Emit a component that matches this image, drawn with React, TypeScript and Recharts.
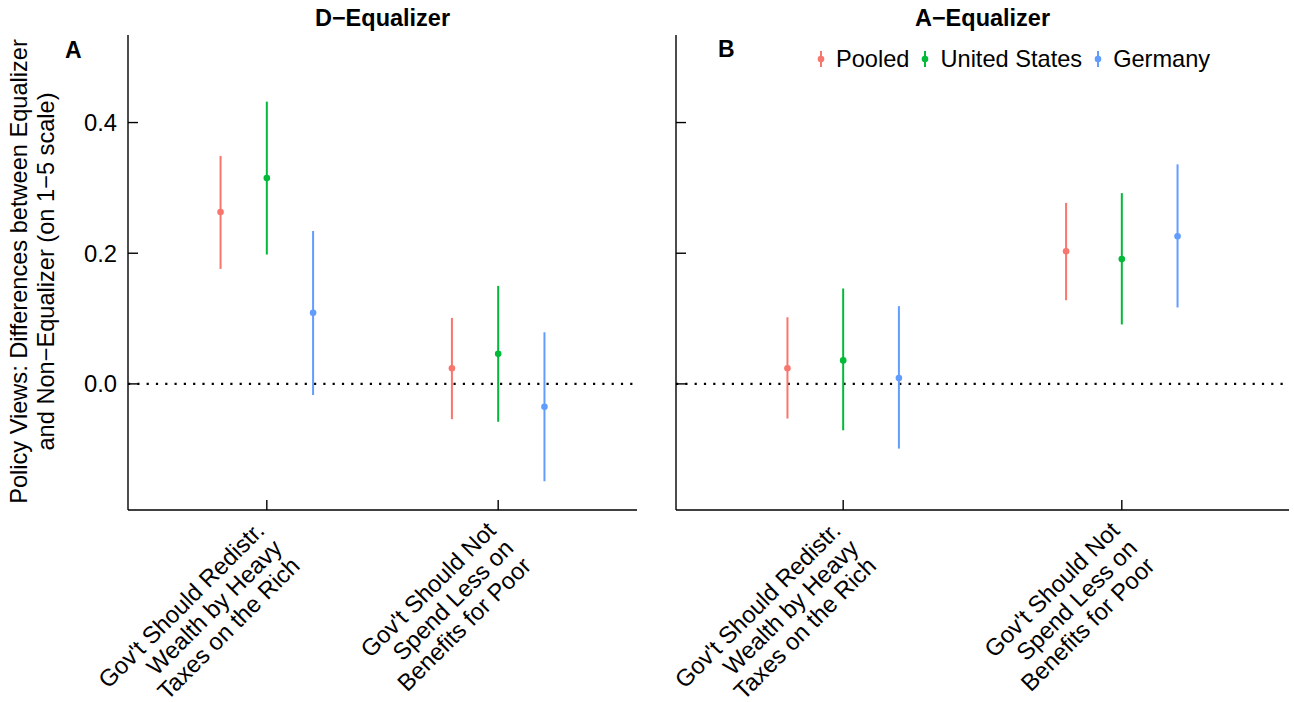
import React from 'react';
import { ScatterChart, Scatter, XAxis, YAxis, ErrorBar, ReferenceLine, Legend } from 'recharts';

const FONT = '"Liberation Sans", Arial, Helvetica, sans-serif';

const SERIES = ['Pooled', 'United States', 'Germany'];
const COLORS = ['#F8766D', '#00BA38', '#619CFF'];
const DODGE = [-0.2, 0, 0.2];

const CATEGORY_LABELS = [
  ["Gov't Should Redistr.", 'Wealth by Heavy', 'Taxes on the Rich'],
  ["Gov't Should Not", 'Spend Less on', 'Benefits for Poor'],
];
const Y_TICKS = [0, 0.2, 0.4];
const Y_DOMAIN = [-0.193, 0.534];

// panel A: D-Equalizer (estimate, lower, upper per category)
const dPooledEst = [0.263, 0.024];
const dPooledLo = [0.176, -0.054];
const dPooledHi = [0.349, 0.101];
const dUsEst = [0.315, 0.046];
const dUsLo = [0.198, -0.058];
const dUsHi = [0.432, 0.15];
const dGerEst = [0.109, -0.035];
const dGerLo = [-0.017, -0.149];
const dGerHi = [0.234, 0.079];

// panel B: A-Equalizer
const aPooledEst = [0.024, 0.203];
const aPooledLo = [-0.053, 0.128];
const aPooledHi = [0.102, 0.277];
const aUsEst = [0.036, 0.191];
const aUsLo = [-0.071, 0.091];
const aUsHi = [0.146, 0.292];
const aGerEst = [0.009, 0.226];
const aGerLo = [-0.099, 0.117];
const aGerHi = [0.119, 0.336];

const buildRows = (est: number[], lo: number[], hi: number[], s: number) =>
  est.map((v, i) => ({ x: i + 1 + DODGE[s], y: v, err: [v - lo[i], hi[i] - v] }));

const panelA = [
  buildRows(dPooledEst, dPooledLo, dPooledHi, 0),
  buildRows(dUsEst, dUsLo, dUsHi, 1),
  buildRows(dGerEst, dGerLo, dGerHi, 2),
];
const panelB = [
  buildRows(aPooledEst, aPooledLo, aPooledHi, 0),
  buildRows(aUsEst, aUsLo, aUsHi, 1),
  buildRows(aGerEst, aGerLo, aGerHi, 2),
];

const TICK_FS = 23.8;

const XTick = (props: any) => {
  const { x, y, payload } = props;
  const lines = CATEGORY_LABELS[Math.round(payload.value) - 1] || [];
  return (
    <g>
      <line x1={x} x2={x} y1={y} y2={y - 10} stroke="#000" strokeWidth={1.4} />
      <g transform={`translate(${x - 1},${y + 22}) rotate(-45)`}>
        {lines.map((l, i) => (
          <text key={i} x={0} y={i * 25} textAnchor="end" fontSize={TICK_FS} fontFamily={FONT} fill="#000">
            {l}
          </text>
        ))}
      </g>
    </g>
  );
};

const makeYTick = (showLabel: boolean) => (props: any) => {
  const { x, y, payload } = props;
  return (
    <g>
      <line x1={x} x2={x + 10} y1={y} y2={y} stroke="#000" strokeWidth={1.4} />
      {showLabel && (
        <text x={x - 11} y={y} dy={8.4} textAnchor="end" fontSize={TICK_FS} fontFamily={FONT} fill="#000">
          {payload.value.toFixed(1)}
        </text>
      )}
    </g>
  );
};

const YTitle = (props: any) => {
  const vb = props.viewBox || {};
  const cy = vb.y + vb.height / 2 - 1;
  return (
    <g transform={`translate(0,${cy}) rotate(-90)`}>
      <text x={0} y={27} textAnchor="middle" fontSize={23.6} fontFamily={FONT} fill="#000">
        Policy Views: Differences between Equalizer
      </text>
      <text x={0} y={54} textAnchor="middle" fontSize={23.6} fontFamily={FONT} fill="#000">
        and Non−Equalizer (on 1−5 scale)
      </text>
    </g>
  );
};

const LegendContent = () => (
  <div style={{ display: 'flex', alignItems: 'center', fontFamily: FONT, fontSize: 23.6, lineHeight: '24px', whiteSpace: 'nowrap' }}>
    {SERIES.map((name, i) => (
      <div key={name} style={{ display: 'flex', alignItems: 'center', marginRight: 9 }}>
        <svg width={14} height={24}>
          <line x1={7} x2={7} y1={4} y2={20} stroke={COLORS[i]} strokeWidth={2} />
          <circle cx={7} cy={12} r={3.3} fill={COLORS[i]} />
        </svg>
        <span style={{ marginLeft: 8, color: '#000' }}>{name}</span>
      </div>
    ))}
  </div>
);

interface PanelProps {
  series: { x: number; y: number; err: number[] }[][];
  width: number;
  yAxisWidth: number;
  rightMargin: number;
  showYLabels: boolean;
  showLegend: boolean;
}

const Panel: React.FC<PanelProps> = ({ series, width, yAxisWidth, rightMargin, showYLabels, showLegend }) => (
  <ScatterChart width={width} height={702} margin={{ top: 35, right: rightMargin, bottom: 0, left: 0 }}>
    <XAxis
      type="number"
      dataKey="x"
      domain={[0.4, 2.6]}
      ticks={[1, 2]}
      allowDataOverflow
      height={192}
      tickSize={0}
      tickMargin={0}
      tickLine={false}
      axisLine={{ stroke: '#000', strokeWidth: 1.4 }}
      tick={<XTick />}
    />
    <YAxis
      type="number"
      dataKey="y"
      domain={Y_DOMAIN}
      ticks={Y_TICKS}
      allowDataOverflow
      width={yAxisWidth}
      tickSize={0}
      tickMargin={0}
      tickLine={false}
      axisLine={{ stroke: '#000', strokeWidth: 1.4 }}
      tick={makeYTick(showYLabels)}
      label={showYLabels ? (p: any) => <YTitle {...p} /> : undefined}
    />
    <ReferenceLine y={0} stroke="#000" strokeWidth={2.2} strokeDasharray="2.2 7.1" />
    {series.map((rows, i) => (
      <Scatter
        key={SERIES[i]}
        name={SERIES[i]}
        data={rows}
        fill={COLORS[i]}
        isAnimationActive={false}
        shape={(p: any) => <circle cx={p.cx} cy={p.cy} r={3.3} fill={COLORS[i]} />}
      >
        <ErrorBar dataKey="err" direction="y" width={0} stroke={COLORS[i]} strokeWidth={2} isAnimationActive={false} />
      </Scatter>
    ))}
    {showLegend && (
      <Legend
        layout="horizontal"
        verticalAlign="middle"
        align="center"
        wrapperStyle={{ left: 167, top: 46.7, width: 'auto', height: 'auto' }}
        content={() => <LegendContent />}
      />
    )}
  </ScatterChart>
);

export default function App() {
  return (
    <div style={{ position: 'relative', width: 1294, height: 702, background: '#fff', fontFamily: FONT }}>
      <style>{'body{margin:0}'}</style>
      <div style={{ position: 'absolute', left: 0, top: 0 }}>
        <Panel series={panelA} width={647} yAxisWidth={128} rightMargin={10} showYLabels showLegend={false} />
      </div>
      <div style={{ position: 'absolute', left: 647, top: 0 }}>
        <Panel series={panelB} width={647} yAxisWidth={29} rightMargin={5} showYLabels={false} showLegend />
      </div>
      <svg width={1294} height={702} style={{ position: 'absolute', left: 0, top: 0, pointerEvents: 'none' }}>
        <text x={382.5} y={26} textAnchor="middle" fontSize={23.5} fontWeight="bold" fontFamily={FONT}>D−Equalizer</text>
        <text x={982.5} y={26} textAnchor="middle" fontSize={23.5} fontWeight="bold" fontFamily={FONT}>A−Equalizer</text>
        <text x={65} y={58} fontSize={23} fontWeight="bold" fontFamily={FONT}>A</text>
        <text x={718} y={57} fontSize={23} fontWeight="bold" fontFamily={FONT}>B</text>
      </svg>
    </div>
  );
}
